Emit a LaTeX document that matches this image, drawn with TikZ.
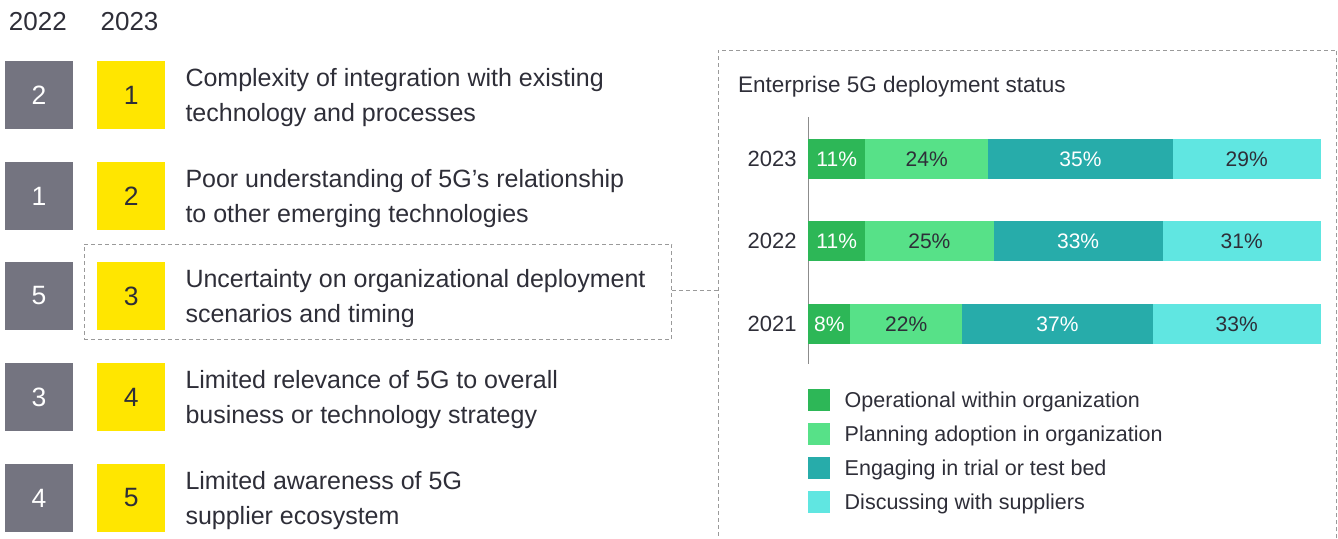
\documentclass[tikz,border=0pt]{standalone}
\usepackage{fontspec}
\setmainfont{Liberation Sans}
\definecolor{eygray}{HTML}{747480}
\definecolor{eyyellow}{HTML}{FFE600}
\definecolor{eytext}{HTML}{2E2E38}
\definecolor{gone}{HTML}{2DB757}
\definecolor{gtwo}{HTML}{57E188}
\definecolor{gthree}{HTML}{27ACAA}
\definecolor{gfour}{HTML}{60E6E1}
\definecolor{dashgray}{HTML}{9A9A9A}
\definecolor{axisgray}{HTML}{8C8C8C}
\begin{document}
\begin{tikzpicture}[x=1pt,y=-1pt,
  every node/.style={inner sep=0pt,outer sep=0pt,text=eytext},
  rankbox/.style={minimum width=68.4pt,minimum height=68pt,anchor=north west,font=\fontsize{26.5}{30}\selectfont},
  oldrank/.style={rankbox,fill=eygray,text=white},
  newrank/.style={rankbox,fill=eyyellow,text=eytext},
  itemtext/.style={anchor=base west,font=\fontsize{25}{30}\selectfont},
  headtext/.style={anchor=base west,font=\fontsize{26}{30}\selectfont},
  dashbox/.style={draw=dashgray,line width=1pt,dash pattern=on 4pt off 3pt},
  seg/.style={minimum height=40pt,anchor=north west,font=\fontsize{21}{25}\selectfont},
  yearlab/.style={anchor=east,font=\fontsize{22}{26}\selectfont},
  legsq/.style={minimum width=22pt,minimum height=22pt,anchor=north west},
  legtext/.style={anchor=base west,font=\fontsize{21.5}{26}\selectfont}
]
\useasboundingbox (0,0) rectangle (1338,538);

% headers
\node[headtext] (h22) at (8.9,30) {2022};
\node[headtext] (h23) at (100.6,30) {2023};

% row 3 highlight box and chart frame
\node[dashbox,anchor=north west,minimum width=587.9pt,minimum height=95pt] (hl) at (84,244) {};
\node[dashbox,anchor=north west,minimum width=618.3pt,minimum height=500pt] (frame) at (718,50) {};
\draw[dashbox] (hl.east |- 0,290.7) coordinate (cstart) -- (cstart -| frame.west);

% ranking rows
\node[oldrank] (o1) at (4.9,61) {2};
\node[newrank] (n1) at (97,61) {1};
\node[itemtext] (t1a) at (185.5,86.5) {Complexity of integration with existing};
\node[itemtext] (t1b) at (185.5,121.5) {technology and processes};

\node[oldrank] (o2) at (4.9,162) {1};
\node[newrank] (n2) at (97,162) {2};
\node[itemtext] (t2a) at (185.5,187.5) {Poor understanding of 5G’s relationship};
\node[itemtext] (t2b) at (185.5,222.5) {to other emerging technologies};

\node[oldrank] (o3) at (4.9,262) {5};
\node[newrank] (n3) at (97,262) {3};
\node[itemtext] (t3a) at (185.5,287.5) {Uncertainty on organizational deployment};
\node[itemtext] (t3b) at (185.5,322.5) {scenarios and timing};

\node[oldrank] (o4) at (4.9,363) {3};
\node[newrank] (n4) at (97,363) {4};
\node[itemtext] (t4a) at (185.5,388.5) {Limited relevance of 5G to overall};
\node[itemtext] (t4b) at (185.5,423.5) {business or technology strategy};

\node[oldrank] (o5) at (4.9,464) {4};
\node[newrank] (n5) at (97,464) {5};
\node[itemtext] (t5a) at (185.5,489.5) {Limited awareness of 5G};
\node[itemtext] (t5b) at (185.5,524.5) {supplier ecosystem};

% chart title
\node[anchor=base west,font=\fontsize{22.5}{27}\selectfont] (title) at (738,92.3) {Enterprise 5G deployment status};

% axis
\coordinate (axtop) at (808.5,117);
\coordinate (axbot) at (808.5,364);
\draw[axisgray,line width=1.4pt] (axtop) -- (axbot);

% 2023
\node[seg,fill=gone,text=white,minimum width=57pt] (a1) at (808.2,139) {11\%};
\node[seg,fill=gtwo,minimum width=123.1pt] (a2) at (865.2,139) {24\%};
\node[seg,fill=gthree,text=white,minimum width=184.4pt] (a3) at (988.3,139) {35\%};
\node[seg,fill=gfour,minimum width=148pt] (a4) at (1172.7,139) {29\%};
\node[yearlab] (y23) at (796.5,159) {2023};

% 2022
\node[seg,fill=gone,text=white,minimum width=57pt] (b1) at (808.2,221) {11\%};
\node[seg,fill=gtwo,minimum width=128.3pt] (b2) at (865.2,221) {25\%};
\node[seg,fill=gthree,text=white,minimum width=169.2pt] (b3) at (993.5,221) {33\%};
\node[seg,fill=gfour,minimum width=158pt] (b4) at (1162.7,221) {31\%};
\node[yearlab] (y22) at (796.5,241) {2022};

% 2021
\node[seg,fill=gone,text=white,minimum width=42.1pt] (c1) at (808.2,304) {8\%};
\node[seg,fill=gtwo,minimum width=111.9pt] (c2) at (850.3,304) {22\%};
\node[seg,fill=gthree,text=white,minimum width=190.5pt] (c3) at (962.2,304) {37\%};
\node[seg,fill=gfour,minimum width=168pt] (c4) at (1152.7,304) {33\%};
\node[yearlab] (y21) at (796.5,324) {2021};

% legend
\node[legsq,fill=gone] (l1) at (808.2,389) {};
\node[legtext] (lt1) at (844.7,407.7) {Operational within organization};
\node[legsq,fill=gtwo] (l2) at (808.2,423) {};
\node[legtext] (lt2) at (844.7,441.7) {Planning adoption in organization};
\node[legsq,fill=gthree] (l3) at (808.2,457) {};
\node[legtext] (lt3) at (844.7,475.7) {Engaging in trial or test bed};
\node[legsq,fill=gfour] (l4) at (808.2,491) {};
\node[legtext] (lt4) at (844.7,509.7) {Discussing with suppliers};
\end{tikzpicture}
\end{document}
